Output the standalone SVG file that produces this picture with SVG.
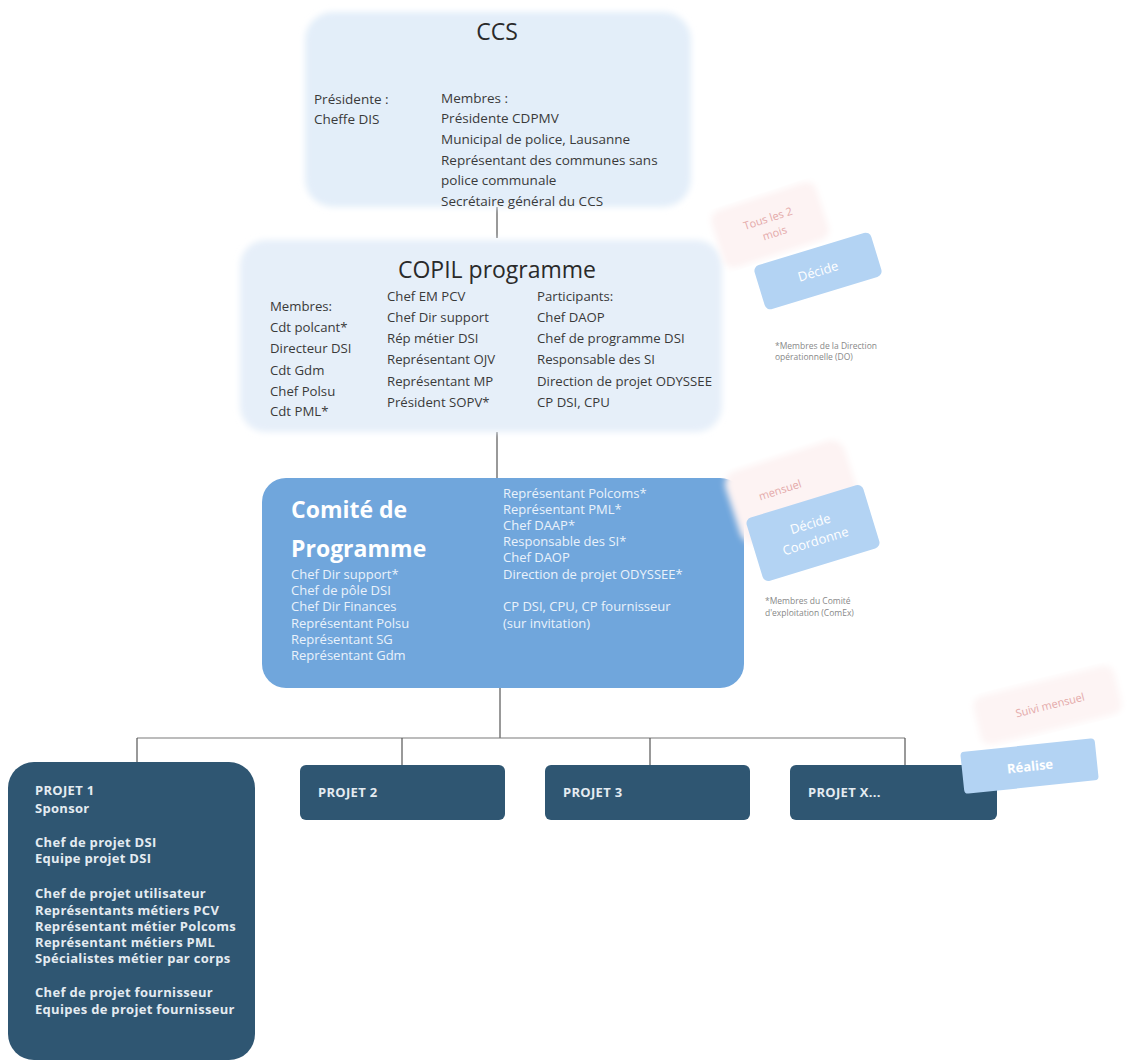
<svg xmlns="http://www.w3.org/2000/svg" width="1129" height="1064" viewBox="0 0 1129 1064">
<defs>
<filter id="soft" x="-5%" y="-5%" width="110%" height="110%"><feGaussianBlur stdDeviation="3"/></filter>
<style>
text{font-family:"Open Sans","Liberation Sans",sans-serif}
.dark{fill:#3a3a3a;font-size:13.5px}
.dark2{fill:#3a3a3a;font-size:13.2px}
.title{fill:#2a2a2a;font-size:23px}
.comw{fill:#eaf2fb;font-size:13px}
.comt{fill:#ffffff;font-size:23px;font-weight:bold}
.proj{fill:#e4ebf1;font-size:13px;font-weight:bold;letter-spacing:0.3px}
.pink{fill:#e4a9a9;font-size:11px}
.btn{fill:#ffffff;font-size:13px}
.note{fill:#888888;font-size:8.5px}
.conn{stroke:#555555;stroke-width:1.2;fill:none}
.hline{stroke:#7a7a7a;stroke-width:1.2;fill:none}
</style>
</defs>
<rect width="1129" height="1064" fill="#ffffff"/>

<g id="connectors">
<line class="conn" x1="497" y1="207" x2="497" y2="238"/>
<line class="conn" x1="497" y1="432" x2="497" y2="478"/>
<line class="conn" x1="500" y1="688" x2="500" y2="738"/>
<line class="hline" x1="137" y1="738" x2="905" y2="738"/>
<line class="conn" x1="137" y1="738" x2="137" y2="763"/>
<line class="conn" x1="402" y1="738" x2="402" y2="766"/>
<line class="conn" x1="650" y1="738" x2="650" y2="766"/>
<line class="conn" x1="905" y1="738" x2="905" y2="766"/>
</g>

<g id="ccs">
<rect x="305" y="12" width="386" height="195" rx="28" fill="#e3eef9" filter="url(#soft)"/>
<text class="title" x="497" y="40" text-anchor="middle">CCS</text>
<text class="dark" x="314" y="104">Présidente :</text>
<text class="dark" x="314" y="124">Cheffe DIS</text>
<text class="dark" x="441" y="103">Membres :</text>
<text class="dark" x="441" y="123">Présidente CDPMV</text>
<text class="dark" x="441" y="144">Municipal de police, Lausanne</text>
<text class="dark" x="441" y="165">Représentant des communes sans</text>
<text class="dark" x="441" y="185">police communale</text>
<text class="dark" x="441" y="206">Secrétaire général du CCS</text>
</g>

<g id="copil">
<rect x="240" y="240" width="482" height="192" rx="26" fill="#e6eff9" filter="url(#soft)"/>
<text class="title" x="497" y="278" text-anchor="middle" font-size="24">COPIL programme</text>
<text class="dark2" x="270" y="311">Membres:</text>
<text class="dark2" x="270" y="332">Cdt polcant*</text>
<text class="dark2" x="270" y="353">Directeur DSI</text>
<text class="dark2" x="270" y="375">Cdt Gdm</text>
<text class="dark2" x="270" y="396">Chef Polsu</text>
<text class="dark2" x="270" y="416">Cdt PML*</text>
<text class="dark2" x="387" y="301">Chef EM PCV</text>
<text class="dark2" x="387" y="322">Chef Dir support</text>
<text class="dark2" x="387" y="343">Rép métier DSI</text>
<text class="dark2" x="387" y="364">Représentant OJV</text>
<text class="dark2" x="387" y="386">Représentant MP</text>
<text class="dark2" x="387" y="407">Président SOPV*</text>
<text class="dark2" x="537" y="301">Participants:</text>
<text class="dark2" x="537" y="322">Chef DAOP</text>
<text class="dark2" x="537" y="343">Chef de programme DSI</text>
<text class="dark2" x="537" y="364">Responsable des SI</text>
<text class="dark2" x="537" y="386">Direction de projet ODYSSEE</text>
<text class="dark2" x="537" y="407">CP DSI, CPU</text>
</g>

<g id="comite">
<rect x="262" y="478" width="482" height="210" rx="24" fill="#70a6dc"/>
<text class="comt" x="291" y="518">Comité de</text>
<text class="comt" x="291" y="557">Programme</text>
<text class="comw" x="291" y="579">Chef Dir support*</text>
<text class="comw" x="291" y="595">Chef de pôle DSI</text>
<text class="comw" x="291" y="611">Chef Dir Finances</text>
<text class="comw" x="291" y="628">Représentant Polsu</text>
<text class="comw" x="291" y="644">Représentant SG</text>
<text class="comw" x="291" y="660">Représentant Gdm</text>
<text class="comw" x="503" y="498">Représentant Polcoms*</text>
<text class="comw" x="503" y="514">Représentant PML*</text>
<text class="comw" x="503" y="530">Chef DAAP*</text>
<text class="comw" x="503" y="546">Responsable des SI*</text>
<text class="comw" x="503" y="562">Chef DAOP</text>
<text class="comw" x="503" y="579">Direction de projet ODYSSEE*</text>
<text class="comw" x="503" y="611">CP DSI, CPU, CP fournisseur</text>
<text class="comw" x="503" y="628">(sur invitation)</text>
</g>

<g id="projet1">
<rect x="8" y="762" width="247" height="298" rx="26" fill="#2f5672"/>
<text class="proj" x="35" y="795">PROJET 1</text>
<text class="proj" x="35" y="813">Sponsor</text>
<text class="proj" x="35" y="847">Chef de projet  DSI</text>
<text class="proj" x="35" y="863">Equipe projet DSI</text>
<text class="proj" x="35" y="898">Chef de projet utilisateur</text>
<text class="proj" x="35" y="915">Représentants métiers PCV</text>
<text class="proj" x="35" y="931">Représentant métier Polcoms</text>
<text class="proj" x="35" y="947">Représentant métiers PML</text>
<text class="proj" x="35" y="963">Spécialistes métier par corps</text>
<text class="proj" x="35" y="997">Chef de projet fournisseur</text>
<text class="proj" x="35" y="1014">Equipes de projet fournisseur</text>
</g>

<g id="projet2">
<rect x="300" y="765" width="205" height="55" rx="6" fill="#2f5672"/>
<text class="proj" x="318" y="797">PROJET 2</text>
</g>
<g id="projet3">
<rect x="545" y="765" width="205" height="55" rx="6" fill="#2f5672"/>
<text class="proj" x="563" y="797">PROJET 3</text>
</g>
<g id="projetx">
<rect x="790" y="765" width="207" height="55" rx="6" fill="#2f5672"/>
<text class="proj" x="808" y="797">PROJET X...</text>
</g>

<g id="note-copil">
<rect x="715" y="195" width="110" height="60" rx="10" fill="#fdf3f3" transform="rotate(-18 770 225)" filter="url(#soft)"/>
<text class="pink" x="770" y="222" text-anchor="middle" transform="rotate(-18 770 225)">Tous les 2</text>
<text class="pink" x="772" y="238" text-anchor="middle" transform="rotate(-18 770 225)">mois</text>
<rect x="757" y="248" width="122" height="46" rx="6" fill="#b3d3f3" transform="rotate(-17 818 271)"/>
<text class="btn" x="818" y="276" text-anchor="middle" transform="rotate(-17 818 271)">Décide</text>
<text class="note" x="775" y="349">*Membres de la Direction</text>
<text class="note" x="775" y="360">opérationnelle (DO)</text>
</g>

<g id="note-comite">
<rect x="730" y="455" width="125" height="75" rx="14" fill="#fdf3f3" transform="rotate(-18 790 492)" filter="url(#soft)"/>
<text class="pink" x="780" y="494" text-anchor="middle" transform="rotate(-18 780 490)">mensuel</text>
<rect x="752" y="500" width="122" height="66" rx="6" fill="#b3d3f3" transform="rotate(-17 813 533)"/>
<text class="btn" x="813" y="528" text-anchor="middle" transform="rotate(-17 813 533)">Décide</text>
<text class="btn" x="813" y="546" text-anchor="middle" transform="rotate(-17 813 533)">Coordonne</text>
<text class="note" x="765" y="604">*Membres du Comité</text>
<text class="note" x="765" y="616">d'exploitation (ComEx)</text>
</g>

<g id="note-projets">
<rect x="975" y="680" width="145" height="50" rx="10" fill="#fdf4f4" transform="rotate(-14 1048 705)" filter="url(#soft)"/>
<text class="pink" x="1050" y="709" text-anchor="middle" transform="rotate(-14 1050 705)">Suivi mensuel</text>
<rect x="962" y="745" width="135" height="42" rx="4" fill="#b3d3f3" transform="rotate(-6 1030 766)"/>
<text class="btn" x="1030" y="771" text-anchor="middle" font-weight="bold" transform="rotate(-6 1030 766)">Réalise</text>
</g>
</svg>
